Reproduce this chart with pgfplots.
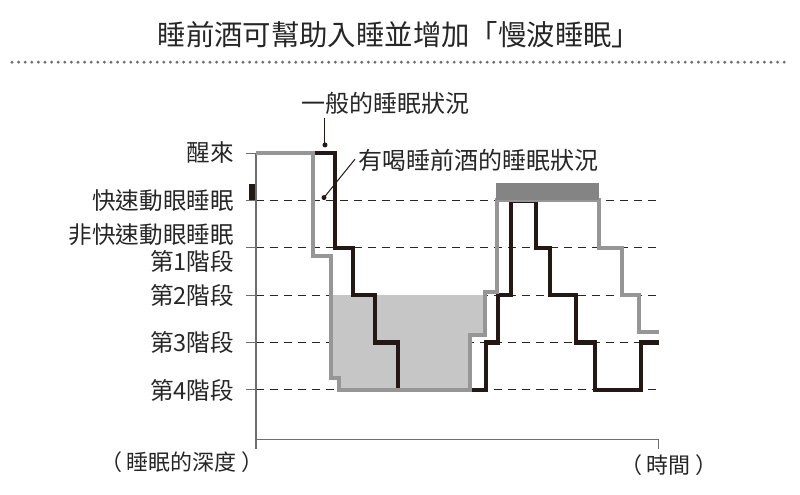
\documentclass[border=0pt]{standalone}
\usepackage{fontspec}
\setmainfont{Noto Sans CJK TC}
\usepackage{pgfplots}
\pgfplotsset{compat=1.18}

\definecolor{linegray}{RGB}{150,150,150}
\definecolor{shadegray}{RGB}{198,198,198}
\definecolor{remgray}{RGB}{132,132,132}
\definecolor{inkblack}{RGB}{35,24,21}
\definecolor{axisgray}{RGB}{110,110,110}

\begin{document}
\begin{tikzpicture}
% 1 px of the 800x494 reference = 0.5pt
\useasboundingbox (0pt,0pt) rectangle (400pt,247pt);

\node[font=\fontsize{14.2}{16}\selectfont, text=black!85] at (199.5pt,229.5pt) {睡前酒可幫助入睡並增加「慢波睡眠」};
\draw[axisgray, line width=1.6pt, line cap=round, dash pattern=on 0pt off 3.3pt] (6pt,215.9pt) -- (394pt,215.9pt);

\begin{axis}[
    at={(128pt,27.5pt)}, anchor=south west,
    scale only axis, width=201pt, height=143pt,
    xmin=0, xmax=402, ymin=-1.034, ymax=5,
    clip=false,
    axis x line*=bottom, axis y line*=left,
    axis line style={-},
    x axis line style={axisgray, line width=0.5pt},
    y axis line style={axisgray, line width=0.75pt},
    xtick=\empty,
    ytick={0,1,2,3,4},
    yticklabels={第4階段,第3階段,第2階段,{非快速動眼睡眠\\第1階段},快速動眼睡眠},
    extra y ticks={5}, extra y tick labels={醒來},
    extra y tick style={grid=none},
    ymajorgrids,
    grid style={black!85, line width=0.5pt, dash pattern=on 4pt off 3pt},
    tick align=outside, major tick length=5pt,
    tick style={axisgray, line width=0.5pt},
    yticklabel style={font=\fontsize{11.8}{13.5}\selectfont, align=right, text=black!85, xshift=-2.5pt},
]
% slow-wave area of the night with alcohol
\addplot[fill=shadegray, draw=none] coordinates {
    (74.7,2) (74.7,0.25) (83,0.25) (83,0) (214,0) (214,1.16) (229,1.16) (229,2)} -- cycle;

% normal night
\addplot[inkblack, line width=2.1pt, line join=miter, mark=none] coordinates {
    (0,5) (79,5) (79,3) (96.7,3) (96.7,2) (119,2) (119,1) (142,1) (142,0)
    (230,0) (230,1) (242,1) (242,2) (255,2) (255,4) (280,4) (280,3) (294,3)
    (294,2) (320,2) (320,1) (339,1) (339,0) (384.7,0) (384.7,1) (403,1)};

% night with alcohol
\addplot[linegray, line width=2pt, line join=miter, mark=none] coordinates {
    (0,5) (56.7,5) (56.7,2.83) (74.7,2.83) (74.7,0.25) (83,0.25) (83,0)
    (214,0) (214,1.16) (229,1.16) (229,2.07) (241,2.07) (241,4) (343,4)
    (343,3) (366,3) (366,2) (383,2) (383,1.23) (403,1.23)};

% REM blocks
\addplot[fill=remgray, draw=none] coordinates {(240,4) (343,4) (343,4.36) (240,4.36)} -- cycle;
\addplot[fill=inkblack, draw=none] coordinates {(-7,4) (-1,4) (-1,4.34) (-7,4.34)} -- cycle;

% axis ends below the time line
\draw[axisgray, line width=0.75pt] (axis cs:0,-1.034) -- (axis cs:0,-1.245);
\draw[axisgray, line width=0.5pt] (axis cs:402,-1.034) -- (axis cs:402,-1.245);

% callouts
\draw[inkblack, line width=0.5pt] (axis cs:69,5.74) -- (axis cs:69,5.17);
\fill[inkblack] (axis cs:69,5.17) circle[radius=1.25pt];
\node[anchor=west, inner sep=0pt, font=\fontsize{12}{14}\selectfont, text=black!85] at (axis cs:44.7,6.05) {一般的睡眠狀況};
\draw[inkblack, line width=0.5pt] (axis cs:99,4.87) -- (axis cs:68,4.06);
\fill[inkblack] (axis cs:68,4.06) circle[radius=1.25pt];
\node[anchor=west, inner sep=0pt, font=\fontsize{12}{14}\selectfont, text=black!85] at (axis cs:102,4.85) {有喝睡前酒的睡眠狀況};
\end{axis}

\node[font=\fontsize{11}{13}\selectfont, text=black!85] at (91pt,16pt) {（\hspace{2.5pt}睡眠的深度\hspace{2.5pt}）};
\node[font=\fontsize{11}{13}\selectfont, text=black!85] at (334.5pt,14.5pt) {（\hspace{2.5pt}時間\hspace{2.5pt}）};
\end{tikzpicture}
\end{document}
